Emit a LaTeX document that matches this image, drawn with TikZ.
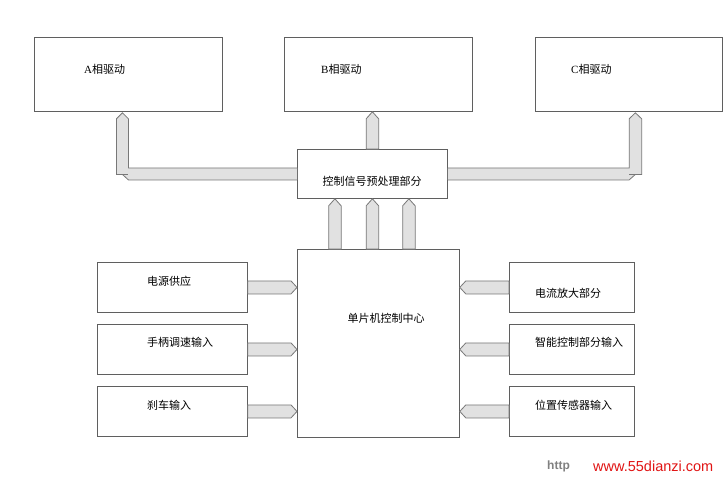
\documentclass[tikz,border=0pt]{standalone}
\usepackage{fontspec}
\setmainfont{Liberation Serif}
\newfontfamily\cjk{Noto Sans CJK SC}
\newfontfamily\wmfont{Liberation Sans}
\usetikzlibrary{calc}
\definecolor{linec}{RGB}{95,95,95}
\definecolor{arrc}{RGB}{120,120,120}
\definecolor{arrfill}{RGB}{225,225,225}
\definecolor{wmred}{RGB}{225,20,20}
\tikzset{
  box/.style={draw=linec, line width=0.8pt, fill=white, anchor=north west, inner sep=0pt},
  lbl/.style={inner sep=0pt, font=\fontsize{11}{13}\selectfont\cjk},
  fat/.style={draw=arrc, line width=0.8pt, fill=arrfill, line join=miter},
}
% horizontal arrow from #1 (tail) to #2 (tip), same y
\newcommand\harr[3]{%
  \filldraw[fat] ($(#1)+(0,-6.5)$) -- ($(#2)+(#3,-6.5)$) -- (#2) -- ($(#2)+(#3,6.5)$) -- ($(#1)+(0,6.5)$) -- cycle;}
% vertical arrow from #1 (tail) up to #2 (tip), same x
\newcommand\varr[2]{%
  \filldraw[fat] ($(#1)+(-6.25,0)$) -- ($(#2)+(-6.25,7)$) -- (#2) -- ($(#2)+(6.25,7)$) -- ($(#1)+(6.25,0)$) -- cycle;}
\begin{document}
\begin{tikzpicture}[x=1pt,y=-1pt]
\useasboundingbox[fill=white] (0,0) rectangle (727,480);

% top boxes
\node[box, minimum width=188pt, minimum height=74pt] (A) at (34,37) {};
\node[box, minimum width=188pt, minimum height=74pt] (B) at (284,37) {};
\node[box, minimum width=187pt, minimum height=74pt] (C) at (535,37) {};
\node[lbl, anchor=west] (At) at (84,69) {{\rmfamily A}相驱动};
\node[lbl, anchor=west] (Bt) at (321,69) {{\rmfamily B}相驱动};
\node[lbl, anchor=west] (Ct) at (571,69) {{\rmfamily C}相驱动};

% control box
\node[box, minimum width=150pt, minimum height=49pt] (P) at (297,149) {};
\node[lbl] (Pt) at (372,181) {控制信号预处理部分};

% main box
\node[box, minimum width=162pt, minimum height=188pt] (M) at (297,249) {};
\node[lbl] (Mt) at (386,318) {单片机控制中心};

% left boxes
\node[box, minimum width=150pt, minimum height=50pt] (L1) at (97,262) {};
\node[box, minimum width=150pt, minimum height=50pt] (L2) at (97,324) {};
\node[box, minimum width=150pt, minimum height=50pt] (L3) at (97,386) {};
\node[lbl, anchor=west] (L1t) at (147,281) {电源供应};
\node[lbl, anchor=west] (L2t) at (147,342) {手柄调速输入};
\node[lbl, anchor=west] (L3t) at (147,405) {刹车输入};

% right boxes
\node[box, minimum width=125pt, minimum height=50pt] (R1) at (509,262) {};
\node[box, minimum width=125pt, minimum height=50pt] (R2) at (509,324) {};
\node[box, minimum width=125pt, minimum height=50pt] (R3) at (509,386) {};
\node[lbl, anchor=west] (R1t) at (535,293) {电流放大部分};
\node[lbl, anchor=west] (R2t) at (535,342) {智能控制部分输入};
\node[lbl, anchor=west] (R3t) at (535,405) {位置传感器输入};

% left arrows into main
\coordinate (tl1) at (L1.east -| M.west);
\coordinate (tl2) at (L2.east -| M.west);
\coordinate (tl3) at (L3.east -| M.west);
\harr{L1.east}{tl1}{-6}
\harr{L2.east}{tl2}{-6}
\harr{L3.east}{tl3}{-6}

% right arrows into main
\coordinate (tr1) at (R1.west -| M.east);
\coordinate (tr2) at (R2.west -| M.east);
\coordinate (tr3) at (R3.west -| M.east);
\harr{R1.west}{tr1}{6}
\harr{R2.west}{tr2}{6}
\harr{R3.west}{tr3}{6}

% up arrows from main to control
\coordinate (u1b) at ($(P.south)+(-37.5,0)$);
\coordinate (u2b) at (P.south);
\coordinate (u3b) at ($(P.south)+(36.5,0)$);
\varr{u1b |- M.north}{u1b}
\varr{u2b |- M.north}{u2b}
\varr{u3b |- M.north}{u3b}

% control to B
\coordinate (bt) at (P.north |- B.south);
\varr{P.north}{bt}

% elbow arrow to A
\coordinate (ka) at ($(A.south)+(-6,0)$);
\coordinate (kac) at (ka |- P.west);
\filldraw[fat] ($(P.west)+(0,-6)$) -- ($(kac)+(6,-6)$) -- ($(ka)+(6,7)$) -- ($(ka)+(0,1)$) -- ($(ka)+(-6,7)$)
  -- ($(kac)+(-6,0.5)$) -- ($(kac)+(0,0.5)$) -- ($(kac)+(6,6)$) -- ($(P.west)+(0,6)$);
\draw[fat, fill=none] ($(kac)+(0,0.5)$) -- ($(kac)+(6,0.5)$);

% elbow arrow to C
\coordinate (kc) at ($(C.south)+(6.5,0)$);
\coordinate (kcc) at (kc |- P.east);
\filldraw[fat] ($(P.east)+(0,-6)$) -- ($(kcc)+(-6.25,-6)$) -- ($(kc)+(-6.25,7)$) -- ($(kc)+(0,1)$) -- ($(kc)+(6.25,7)$)
  -- ($(kcc)+(6.25,0.5)$) -- ($(kcc)+(0,0.5)$) -- ($(kcc)+(-6.25,6)$) -- ($(P.east)+(0,6)$);
\draw[fat, fill=none] ($(kcc)+(0,0.5)$) -- ($(kcc)+(-6.25,0.5)$);

% watermark
\node[inner sep=0pt, anchor=west, text=gray, font=\wmfont\bfseries\fontsize{12}{14}\selectfont] (wm1) at (547,466) {http};
\node[inner sep=0pt, anchor=west, text=wmred, font=\wmfont\fontsize{14.5}{16}\selectfont] (wm2) at (593,466) {www.55dianzi.com};
\end{tikzpicture}
\end{document}
